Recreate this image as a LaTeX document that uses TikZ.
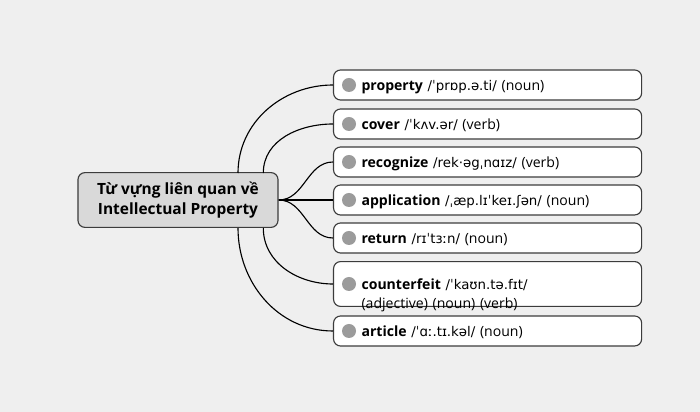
\documentclass[tikz,border=0pt]{standalone}
\usepackage{fontspec}
\setmainfont{Open Sans}
\newfontfamily\ipa{DejaVu Sans}
\usetikzlibrary{positioning}
\definecolor{BgGray}{RGB}{239,239,239}
\definecolor{HubGray}{RGB}{217,217,217}
\definecolor{DotGray}{RGB}{155,155,155}
\definecolor{EdgeGray}{RGB}{60,60,60}
\newcommand{\pron}[1]{{\ipa\fontsize{9.5}{13}\selectfont #1}}
\tikzset{
  word/.style={draw=EdgeGray, fill=white, rounded corners=5pt, line width=0.8pt,
    minimum width=7.25cm, minimum height=0.75cm, anchor=west, align=left,
    text width=6.3cm, inner xsep=0.7cm, xshift=-0.225cm, text depth=0pt,
    font=\fontsize{10}{13.5}\selectfont},
  dot/.style={circle, fill=DotGray, minimum size=0.35cm, inner sep=0pt},
  link/.style={line width=0.8pt, black},
}
\begin{document}
\begin{tikzpicture}[x=0.025cm,y=-0.025cm]
  \fill[BgGray] (0,0) rectangle (700,412);
  % hub
  \node[draw=EdgeGray, fill=HubGray, rounded corners=5pt, line width=0.8pt,
        minimum width=5cm, minimum height=1.37cm, align=center,
        font=\bfseries\fontsize{11}{14}\selectfont] (hub) at (178,200)
        {Từ vựng liên quan về\\Intellectual Property};
  % words
  \node[word] (w1) at (342,85)  {\textbf{property} \pron{/ˈprɒp.ə.ti/} (noun)};
  \node[word] (w2) at (342,124) {\textbf{cover} \pron{/ˈkʌv.ər/} (verb)};
  \node[word] (w3) at (342,162) {\textbf{recognize} \pron{/rek·əgˌnɑɪz/} (verb)};
  \node[word] (w4) at (342,200) {\textbf{application} \pron{/ˌæp.lɪˈkeɪ.ʃən/} (noun)};
  \node[word] (w5) at (342,238) {\textbf{return} \pron{/rɪˈtɜːn/} (noun)};
  \node[word, minimum height=1.12cm] (w6) at (342,284)
        {\textbf{counterfeit} \pron{/ˈkaʊn.tə.fɪt/}\\(adjective) (noun) (verb)};
  \node[word] (w7) at (342,331) {\textbf{article} \pron{/ˈɑː.tɪ.kəl/} (noun)};
  % dots and links
  \foreach \w in {w1,w2,w3,w4,w5,w6,w7}
    \node[dot] at ([xshift=0.4cm]\w.west) {};
  \coordinate (top) at (238,173);
  \coordinate (bot) at (238,228);
  \draw[link] (top) to[out=90,in=180] (w1.west);
  \draw[link] ([xshift=18]top) to[out=90,in=180] (w2.west);
  \draw[link] (hub.east) to[out=0,in=180] (w3.west);
  \draw[link] (hub.east) -- (w4.west);
  \draw[link] (hub.east) to[out=0,in=180] (w5.west);
  \draw[link] ([xshift=18]bot) to[out=-90,in=180] (w6.west);
  \draw[link] (bot) to[out=-90,in=180] (w7.west);
\end{tikzpicture}
\end{document}
